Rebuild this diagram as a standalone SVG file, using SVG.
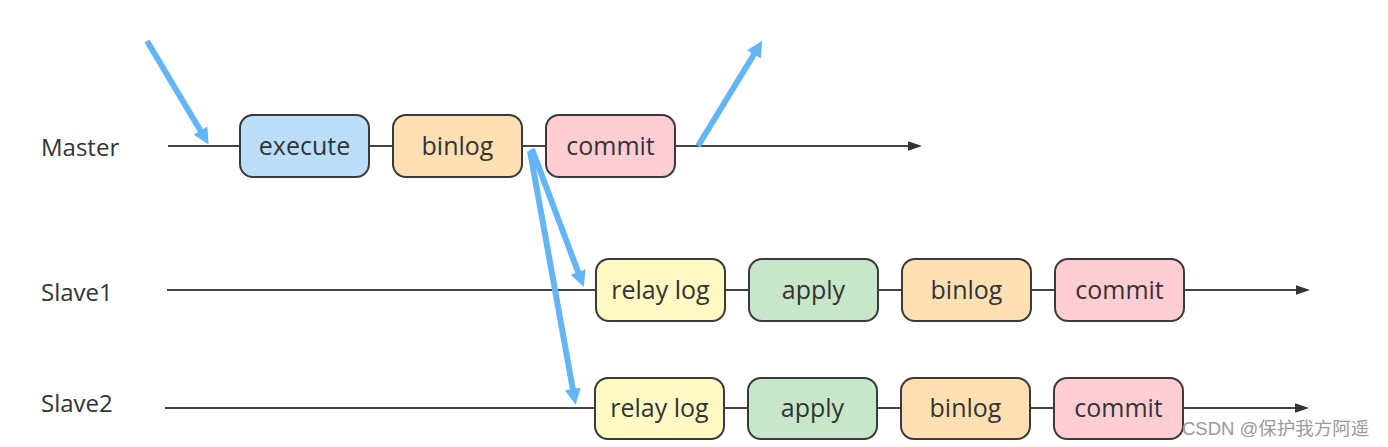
<svg xmlns="http://www.w3.org/2000/svg" width="1388" height="447" viewBox="0 0 1388 447">
  <style>
    .box { stroke: #3a3a3a; stroke-width: 2; }
    .exec { fill: #BBDEFB; }
    .bin { fill: #FFE0B2; }
    .com { fill: #FFCDD2; }
    .relay { fill: #FFF9C4; }
    .apply { fill: #C8E6C9; }
    .btxt { font-family: "Open Sans", "Noto Sans", sans-serif; font-size: 25px; fill: #333; text-anchor: middle; }
    .lbl { font-family: "Open Sans", "Noto Sans", sans-serif; font-size: 24px; fill: #333; }
    .line { stroke: #444; stroke-width: 2; fill: none; }
    .blue { stroke: #64B5F6; stroke-width: 6; fill: none; marker-end: url(#bluehead); }
    .wm { font-family: "Liberation Sans", "Noto Sans CJK SC", sans-serif; font-size: 18.5px; fill: #9a9a9a; }
  </style>
  <defs>
    <marker id="blackhead" markerUnits="userSpaceOnUse" markerWidth="16" markerHeight="12" viewBox="0 -6 16 12" refX="0" refY="0" orient="auto">
      <path d="M-1,-5 L14,0 L-1,5 z" fill="#333"/>
    </marker>
    <marker id="bluehead" markerUnits="userSpaceOnUse" markerWidth="18" markerHeight="18" viewBox="-2 -9 18 18" refX="0" refY="0" orient="auto">
      <path d="M-1,-8 L15,0 L-1,8 z" fill="#64B5F6"/>
    </marker>
  </defs>

  <g id="connectors">
    <line class="line" x1="168" y1="146" x2="908" y2="146" marker-end="url(#blackhead)"/>
    <line class="line" x1="167" y1="290" x2="1296" y2="290" marker-end="url(#blackhead)"/>
    <line class="line" x1="165" y1="408" x2="1295" y2="408" marker-end="url(#blackhead)"/>
    <line class="blue" x1="147" y1="41" x2="201" y2="131.5"/>
    <line class="blue" x1="698" y1="146" x2="754.5" y2="53.5"/>
    <line class="blue" x1="532" y1="149" x2="578.5" y2="273"/>
    <line class="blue" x1="530" y1="151" x2="573" y2="390"/>
  </g>

  <g id="label-master"><text class="lbl" x="41" y="156">Master</text></g>
  <g id="label-slave1"><text class="lbl" x="41" y="301">Slave1</text></g>
  <g id="label-slave2"><text class="lbl" x="41" y="412">Slave2</text></g>

  <g id="m-execute"><rect class="box exec" x="240" y="115" width="129" height="62" rx="13"/><text class="btxt" x="304.5" y="155">execute</text></g>
  <g id="m-binlog"><rect class="box bin" x="393" y="115" width="129" height="62" rx="13"/><text class="btxt" x="457.5" y="155">binlog</text></g>
  <g id="m-commit"><rect class="box com" x="546" y="115" width="129" height="62" rx="13"/><text class="btxt" x="610.5" y="155">commit</text></g>

  <g id="s1-relay"><rect class="box relay" x="596" y="259" width="129" height="62" rx="13"/><text class="btxt" x="660.5" y="299">relay log</text></g>
  <g id="s1-apply"><rect class="box apply" x="749" y="259" width="129" height="62" rx="13"/><text class="btxt" x="813.5" y="299">apply</text></g>
  <g id="s1-binlog"><rect class="box bin" x="902" y="259" width="129" height="62" rx="13"/><text class="btxt" x="966.5" y="299">binlog</text></g>
  <g id="s1-commit"><rect class="box com" x="1055" y="259" width="129" height="62" rx="13"/><text class="btxt" x="1119.5" y="299">commit</text></g>

  <g id="s2-relay"><rect class="box relay" x="595" y="378" width="129" height="61" rx="13"/><text class="btxt" x="659.5" y="417">relay log</text></g>
  <g id="s2-apply"><rect class="box apply" x="748" y="378" width="129" height="61" rx="13"/><text class="btxt" x="812.5" y="417">apply</text></g>
  <g id="s2-binlog"><rect class="box bin" x="901" y="378" width="129" height="61" rx="13"/><text class="btxt" x="965.5" y="417">binlog</text></g>
  <g id="s2-commit"><rect class="box com" x="1054" y="378" width="129" height="61" rx="13"/><text class="btxt" x="1118.5" y="417">commit</text></g>

  <text class="wm" x="1182" y="435">CSDN @保护我方阿遥</text>
</svg>
